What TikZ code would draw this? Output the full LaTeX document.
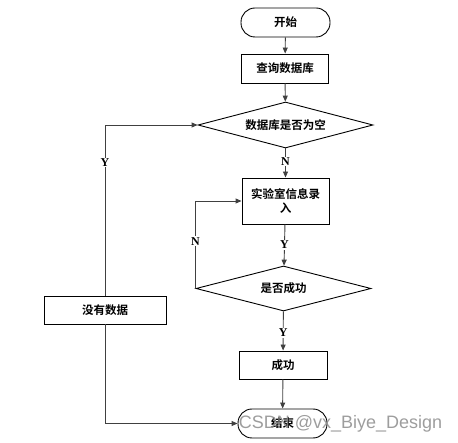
\documentclass[tikz,border=0pt]{standalone}
\usepackage{fontspec}
\setmainfont{Liberation Serif}
\newfontfamily\cjk{Noto Sans CJK SC}[BoldFont={* Bold}]
\newfontfamily\wmfont{Liberation Sans}
\usetikzlibrary{shapes.geometric,arrows.meta}
\begin{document}
\begin{tikzpicture}[x=1pt,y=-1pt,
  every node/.style={font=\cjk\bfseries\fontsize{11.5}{14}\selectfont},
  proc/.style={draw=black,line width=0.9pt,minimum width=87pt,minimum height=29pt,inner sep=0pt,align=center},
  term/.style={draw=black,line width=0.9pt,minimum width=89pt,minimum height=29pt,rounded corners=14pt,inner sep=0pt},
  dec/.style={draw=black,line width=0.9pt,diamond,aspect=3.8,minimum width=175pt,minimum height=46pt,inner sep=0pt},
  conn/.style={draw=black!75,line width=0.9pt,-{Triangle[length=6pt,width=5pt]}},
  lab/.style={fill=white,inner sep=1pt,font=\bfseries\fontsize{12}{14}\selectfont}]
\useasboundingbox (0,0) rectangle (458,443);
\node[term] (start) at (285.5,22.5) {开始};
\node[proc] (q) at (285,68.5) {查询数据库};
\node[dec] (d1) at (285.5,125) {数据库是否为空};
\node[proc,minimum height=46pt] (lab) at (285.5,201) {实验室信息录\\入};
\node[dec,minimum width=175pt,minimum height=45pt] (d2) at (283.5,288.5) {是否成功};
\node[proc,minimum width=122pt,minimum height=28pt] (nodata) at (105,310) {没有数据};
\node[proc,minimum width=88pt,minimum height=28pt] (ok) at (283,365) {成功};
\node[term] (end) at (282.5,423.5) {结束};

\draw[conn] (start) -- (q);
\draw[conn] (q) -- (d1);
\draw[conn] (d1) -- node[lab,pos=0.45] {N} (lab);
\draw[conn] (lab) -- node[lab,pos=0.5] {Y} (d2);
\draw[conn] (d2.west) |- node[lab,pos=0.27] {N} (lab.west);
\draw[conn] (d2) -- node[lab,pos=0.55] {Y} (ok);
\draw[conn] (ok) -- (end);
\draw[conn] (nodata.north) |- node[lab,pos=0.39] {Y} (d1.west);
\draw[conn] (nodata.south) |- (end.west);

\node[font=\wmfont\fontsize{18}{20}\selectfont,text=black!45,text opacity=0.85,inner sep=0pt] (wm) at (340.5,424) {CSDN @vx\_Biye\_Design};
\end{tikzpicture}
\end{document}
